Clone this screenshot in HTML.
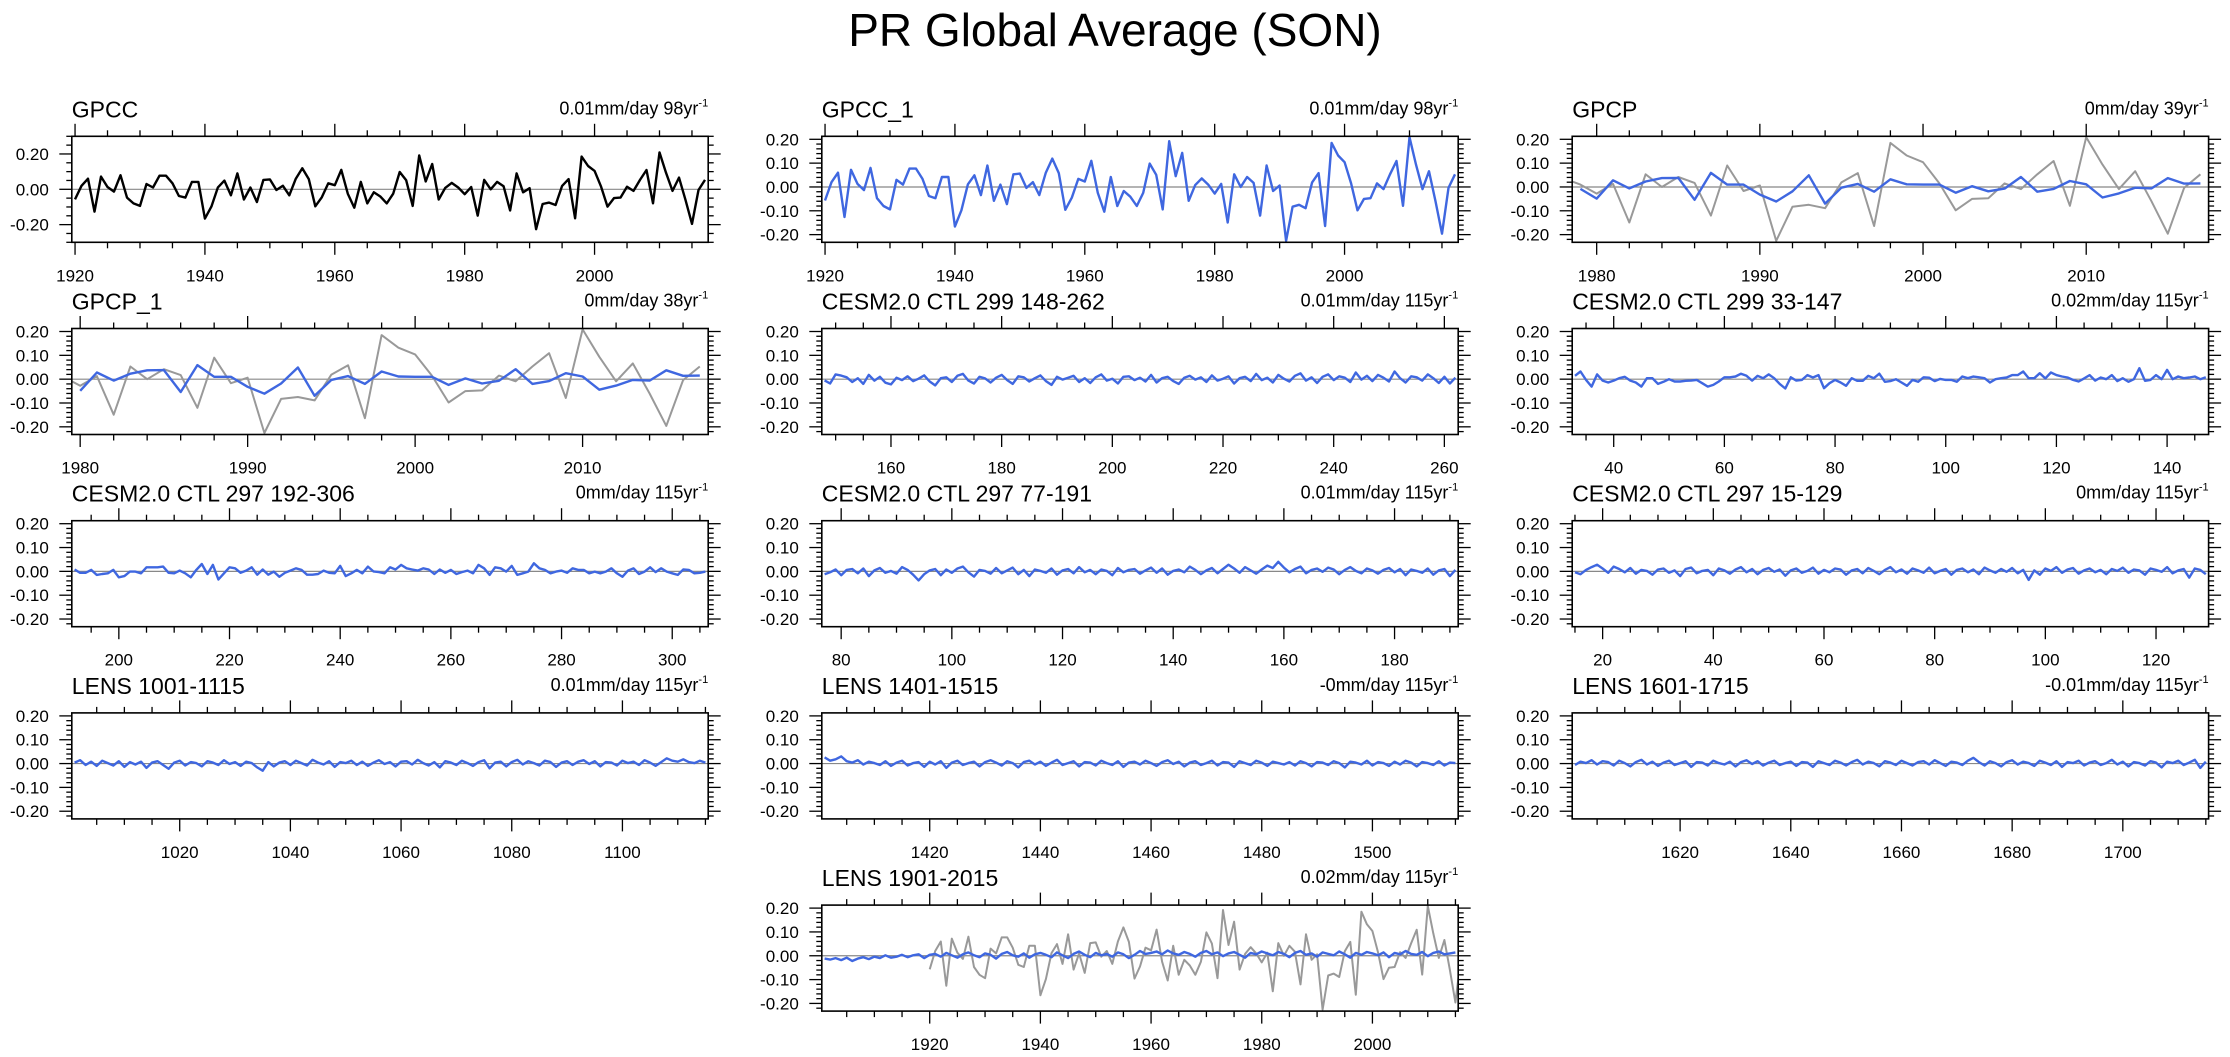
<!DOCTYPE html>
<html><head><meta charset="utf-8"><title>PR Global Average (SON)</title>
<style>
html,body{margin:0;padding:0;background:#fff;}
svg{display:block;font-family:"Liberation Sans",Arial,sans-serif;}
</style></head>
<body>
<svg id="fig" width="2230" height="1057" viewBox="0 0 2230 1057" xmlns="http://www.w3.org/2000/svg">
<text x="1115" y="46" text-anchor="middle" font-size="46">PR Global Average (SON)</text>
</svg>
<script>
// ---- data ----
const gpccYears0 = 1920;
const gpcc = [-0.057,0.02,0.06,-0.126,0.072,0.013,-0.013,0.08,-0.047,-0.08,
-0.094,0.03,0.01,0.077,0.077,0.034,-0.038,-0.047,0.042,0.042,
-0.166,-0.098,0.011,0.049,-0.034,0.09,-0.058,0.01,-0.072,0.053,
0.056,-0.004,0.02,-0.034,0.06,0.119,0.058,-0.096,-0.045,0.034,
0.023,0.11,-0.025,-0.104,0.042,-0.08,-0.017,-0.041,-0.08,-0.025,
0.098,0.051,-0.094,0.192,0.045,0.143,-0.058,0.008,0.036,0.01,
-0.028,0.013,-0.149,0.053,0,0.042,0.017,-0.12,0.09,-0.017,
0.006,-0.226,-0.083,-0.075,-0.089,0.019,0.058,-0.164,0.185,0.132,
0.104,0.015,-0.098,-0.05,-0.047,0.015,-0.009,0.053,0.109,-0.079,
0.209,0.094,-0.009,0.066,-0.06,-0.196,-0.004,0.053];
const gpcpYears0 = 1979;
const gpcp = [-0.008,-0.049,0.028,-0.006,0.023,0.037,0.038,-0.054,0.059,0.01,
0.01,-0.032,-0.061,-0.018,0.049,-0.07,-0.003,0.013,-0.02,0.032,
0.011,0.01,0.01,-0.024,0.003,-0.018,-0.007,0.042,-0.02,-0.008,
0.025,0.011,-0.044,-0.027,-0.003,-0.006,0.037,0.014,0.015];
const cesm299a = [-.005,-.018,.02,.015,.008,-.012,.004,-.02,.018,-.006,
.01,-.015,-.022,.006,-.004,.012,-.008,.002,.016,-.01,
-.026,.004,.008,-.012,.014,.022,-.006,-.018,.01,.003,
-.014,.006,.018,-.004,-.02,.012,.008,-.01,.004,.016,
-.008,-.024,.01,-.002,.006,.014,-.012,.004,-.016,.008,
.02,-.006,.002,-.018,.01,.012,-.004,.006,-.01,.018,
-.014,.004,.01,-.008,-.02,.006,.014,-.002,.008,-.012,
.016,-.006,.002,.012,-.018,.004,.01,-.008,.022,-.004,
.006,-.014,.018,.002,-.01,.014,.024,-.006,.008,-.016,
.01,.02,-.004,.012,.006,-.012,.028,-.002,.014,-.008,
.018,.006,-.01,.032,.004,-.014,.012,.008,-.006,.02,
.004,-.016,.01,-.018,.006];
const cesm299b = [.014,.032,-.003,-.031,.02,-.006,-.014,-.006,.004,.01,
-.006,-.014,-.031,.004,.004,-.02,-.011,0,-.01,-.01,
-.007,-.006,-.003,-.017,-.031,-.024,-.01,.008,.008,.011,
.023,.014,-.006,.014,.004,.02,.004,-.02,-.039,.008,
-.006,-.003,.017,.007,.017,-.038,-.017,-.003,-.014,-.028,
.004,-.007,-.007,.014,.004,.023,-.011,-.008,0,-.014,
-.028,-.003,-.011,.008,.006,-.008,.001,-.003,-.003,-.011,
.011,.004,.011,.008,.004,-.014,0,.004,.007,.017,
.017,.032,.004,.004,.025,.003,.028,.017,.011,.007,
-.003,-.01,.003,.017,-.006,.007,0,.017,-.008,.004,
-.011,0,.046,-.007,-.003,.017,0,.039,0,.011,
.004,.007,.011,0,.008];
const cesm297a = [.008,-.006,-.006,.006,-.015,-.011,-.008,.006,-.025,-.02,
-.001,-.001,-.008,.017,.017,.017,.02,-.006,-.008,.003,
-.008,-.025,.006,.031,-.011,.027,-.034,-.008,.017,.013,
-.006,.003,.017,-.014,.008,-.014,-.001,-.023,-.006,.003,
.013,.006,-.014,-.014,-.011,.003,-.006,-.008,.023,-.02,
-.008,.006,-.008,.02,0,-.003,-.008,.017,.008,.027,
.013,.008,.003,.013,.008,-.011,.008,-.006,.006,-.011,
-.003,.003,-.008,.027,.013,-.015,.017,.013,-.001,.023,
-.015,-.008,-.001,.034,.013,.006,-.008,-.001,.003,-.006,
.013,.006,.006,-.008,-.001,-.008,-.001,.013,-.008,-.023,
.003,.013,-.011,-.001,.017,-.003,.013,-.001,-.008,-.015,
.008,.006,-.008,-.006,-.001];
const cesm297b = [-.012,-.004,.008,-.016,.006,.01,-.008,.012,-.02,.004,
.014,-.006,.002,-.01,.018,.006,-.014,-.038,-.012,.004,
.01,-.016,.008,-.006,.012,.02,-.004,-.022,.006,.002,
-.01,.014,-.008,.004,.016,-.012,.006,-.02,.008,.002,
-.006,.012,-.014,.004,.01,-.008,.018,-.004,.006,-.012,
.008,.002,-.016,.014,-.004,.006,.01,-.01,.004,.016,
-.006,.012,-.014,.002,.008,-.004,.02,.006,-.012,.004,
.014,-.008,.01,.028,.012,-.006,.018,.004,-.01,.008,
.024,.014,.04,.016,-.004,.01,.02,-.008,.006,.012,
-.002,.016,.008,-.012,.006,.018,.002,-.008,.012,.004,
-.01,.006,.014,-.004,.01,-.016,.008,.002,-.006,.012,
-.014,.004,.01,-.02,.006];
const cesm297c = [-.004,-.012,.006,.018,.028,.012,-.006,.02,.01,-.004,
.014,-.01,.006,.002,-.014,.008,.012,-.006,.004,-.02,
.01,.016,-.008,.002,.006,-.016,.012,.004,-.01,.008,
.018,-.004,.01,-.012,.006,.014,-.002,.008,-.018,.004,
.012,-.006,.002,.016,-.01,.006,-.004,.012,.008,-.014,
.004,.01,-.008,.014,.002,-.012,.006,.018,-.004,.008,
-.01,.012,.004,-.006,.016,-.008,.002,.01,-.014,.006,
.012,-.004,.008,-.012,.016,.004,-.006,.01,-.002,.014,
-.008,.006,-.036,.004,-.014,.012,.002,.018,-.006,.008,
.014,-.01,.004,.012,-.004,.006,-.012,.01,.002,.016,
-.006,.008,.004,-.014,.012,.006,-.002,.018,-.008,.004,
.01,-.026,.012,.006,-.012];
const lens1001 = [.004,.014,-.006,.008,-.01,.012,.002,-.008,.01,-.014,
.006,-.004,.008,-.018,.004,.01,-.006,-.022,.004,.012,
-.008,.006,.002,-.012,.01,.004,-.006,.014,-.002,.006,
-.01,.008,.002,-.016,-.03,.006,-.012,.004,.01,-.006,
.012,.002,-.008,.016,.004,-.004,.01,-.014,.006,.002,
.012,-.006,.008,-.01,.004,.014,-.002,.006,-.012,.008,
.01,-.004,.016,.002,-.008,.006,-.016,.01,.004,-.006,
.012,.002,-.01,.006,.014,-.02,.004,.008,-.012,.006,
.016,-.004,.01,.002,-.008,.012,.006,-.014,.004,.01,
-.006,.008,.014,-.002,.01,-.012,.006,.004,-.008,.012,
.002,.008,-.006,.014,.004,-.01,.006,.022,.012,.008,
.018,.006,.002,.012,.004];
const lens1401 = [.026,.012,.018,.03,.01,.004,.014,-.004,.008,.002,
-.006,.01,-.01,.004,.012,-.008,.002,.006,-.014,.008,
-.004,.01,-.018,.004,.012,-.006,.002,.008,-.012,.006,
.014,.004,-.008,.01,.002,-.016,.006,.012,-.004,.008,
-.01,.004,.016,-.006,.002,.01,-.012,.006,.004,-.008,
.012,.002,-.006,.01,-.014,.004,.008,-.004,.012,.002,
-.01,.006,.014,-.002,.008,-.012,.004,.01,-.006,.002,
.012,-.008,.006,.004,-.014,.01,.002,-.006,.012,.004,
-.01,.008,.002,-.004,.006,-.008,.01,.002,-.012,.006,
.004,-.006,.01,.002,-.016,.008,.004,-.004,.012,-.008,
.006,.002,-.01,.008,-.004,.012,.004,-.012,.006,.002,
-.006,.01,-.008,.004,.002];
const lens1601 = [-.006,.008,.002,.014,-.004,.01,.006,-.008,.012,.002,
-.012,.006,.016,-.004,.008,-.01,.004,.012,-.006,.002,
.01,-.014,.006,.004,-.008,.012,.002,-.004,.008,-.012,
.006,.014,-.002,.01,-.008,.004,.012,-.006,.002,.008,
-.01,.006,.004,-.014,.01,.002,-.006,.012,.004,-.008,
.006,.016,-.004,.008,.002,-.012,.01,.004,-.006,.012,
.002,-.008,.006,.01,-.004,.014,.002,-.01,.008,.004,
-.006,.012,.024,.006,-.008,.01,.002,-.012,.006,.014,
-.004,.008,.002,-.01,.012,.004,-.006,.01,-.014,.006,
.002,.012,-.008,.004,.01,-.006,.002,.016,-.004,.008,
-.012,.006,.002,-.008,.01,.004,-.016,.008,.002,.012,
-.006,.004,.016,-.018,.008];
const lens1901 = [-.012,-.016,-.01,-.018,-.008,-.022,-.012,-.006,-.014,-.004,
-.01,.002,-.008,-.004,.004,-.006,.002,.006,-.01,.004,
.008,-.004,.012,.002,-.008,.006,.014,.002,-.006,.01,
.004,-.012,.008,.016,.002,-.004,.01,-.008,.006,.012,
.004,-.006,.014,.002,-.01,.008,.018,.004,-.006,.012,
.002,.008,-.004,.014,.006,-.01,.004,.02,.008,.012,
.018,.006,.022,.01,.004,.016,.008,-.004,.012,.02,
.006,.014,-.002,.01,.016,.004,-.008,.012,.006,.018,
.01,.002,.016,.008,-.006,.012,.02,.004,.01,-.004,
.014,.008,.002,.018,.006,-.008,.012,.004,.016,.01,
.002,.014,-.006,.012,.006,.02,.008,.004,.016,-.002,
.012,.018,.006,.01,.014];
const panelTitles = ["GPCC","GPCC_1","GPCP","GPCP_1","CESM2.0 CTL 299 148-262","CESM2.0 CTL 299 33-147","CESM2.0 CTL 297 192-306","CESM2.0 CTL 297 77-191","CESM2.0 CTL 297 15-129","LENS 1001-1115","LENS 1401-1515","LENS 1601-1715","LENS 1901-2015"];
const trendLabels = ["0.01mm/day 98yr","0.01mm/day 98yr","0mm/day 39yr","0mm/day 38yr","0.01mm/day 115yr","0.02mm/day 115yr","0mm/day 115yr","0.01mm/day 115yr","0mm/day 115yr","0.01mm/day 115yr","-0mm/day 115yr","-0.01mm/day 115yr","0.02mm/day 115yr"];
const yLabels = ["0.20","0.10","0.00","-0.10","-0.20"];
const yLabelsWide = ["0.20","0.00","-0.20"];

// ---- layout ----
const NS="http://www.w3.org/2000/svg";
const svg=document.getElementById('fig');
const colX=[71.8,821.8,1572.2], W=636.4;
const rowY=[136.3,328.5,520.7,712.9,905.1], H=106;
const BLUE="#3f67e0", GRAY="#999999";
function mk(tag,attrs,parent){const e=document.createElementNS(NS,tag);for(const k in attrs)e.setAttribute(k,attrs[k]);(parent||svg).appendChild(e);return e;}

const panels=[
 {c:0,r:0,x0:1919.5,x1:2017.5,xMaj:20,xMin:5,wide:true,series:[{d:gpcc,s:gpccYears0,col:"#000"}]},
 {c:1,r:0,x0:1919.5,x1:2017.5,xMaj:20,xMin:5,series:[{d:gpcc,s:gpccYears0,col:BLUE}]},
 {c:2,r:0,x0:1978.5,x1:2017.5,xMaj:10,xMin:2,series:[{d:gpcc,s:gpccYears0,col:GRAY},{d:gpcp,s:gpcpYears0,col:BLUE}]},
 {c:0,r:1,x0:1979.5,x1:2017.5,xMaj:10,xMin:2,series:[{d:gpcc,s:gpccYears0,col:GRAY},{d:gpcp.slice(1),s:1980,col:BLUE}]},
 {c:1,r:1,x0:147.5,x1:262.5,xMaj:20,xMin:5,series:[{d:cesm299a,s:148,col:BLUE}]},
 {c:2,r:1,x0:32.5,x1:147.5,xMaj:20,xMin:5,series:[{d:cesm299b,s:33,col:BLUE}]},
 {c:0,r:2,x0:191.5,x1:306.5,xMaj:20,xMin:5,series:[{d:cesm297a,s:192,col:BLUE}]},
 {c:1,r:2,x0:76.5,x1:191.5,xMaj:20,xMin:5,series:[{d:cesm297b,s:77,col:BLUE}]},
 {c:2,r:2,x0:14.5,x1:129.5,xMaj:20,xMin:5,series:[{d:cesm297c,s:15,col:BLUE}]},
 {c:0,r:3,x0:1000.5,x1:1115.5,xMaj:20,xMin:5,series:[{d:lens1001,s:1001,col:BLUE}]},
 {c:1,r:3,x0:1400.5,x1:1515.5,xMaj:20,xMin:5,series:[{d:lens1401,s:1401,col:BLUE}]},
 {c:2,r:3,x0:1600.5,x1:1715.5,xMaj:20,xMin:5,series:[{d:lens1601,s:1601,col:BLUE}]},
 {c:1,r:4,x0:1900.5,x1:2015.5,xMaj:20,xMin:5,series:[{d:gpcc,s:gpccYears0,col:GRAY},{d:lens1901,s:1901,col:BLUE}]}
];

panels.forEach((p,i)=>{
 const L=colX[p.c], T=rowY[p.r], R=L+W, B=T+H;
 const y0=p.wide?-0.3:-0.2322, y1=p.wide?0.3:0.2126;
 const sx=v=>L+(v-p.x0)/(p.x1-p.x0)*W;
 const sy=v=>B-(v-y0)/(y1-y0)*H;
 const g=mk('g',{});
 
 
 const cp=mk('clipPath',{id:'cp'+i},g); mk('rect',{x:L,y:T,width:W,height:H},cp);
 const t=mk('text',{x:L,y:T-19,'font-size':23},g); t.textContent=panelTitles[i];
 
 
 const tr=mk('text',{x:R,y:T-22,'font-size':18,'text-anchor':'end'},g);
 
 
 tr.appendChild(document.createTextNode(trendLabels[i]));
 const sup=mk('tspan',{'font-size':11,dy:-8},tr); sup.textContent='-1';
 const z=mk('line',{x1:L,x2:R,y1:sy(0),y2:sy(0),stroke:'#888','stroke-width':1.2},g);
 
 
 p.series.forEach(s=>{
  const pts=s.d.map((v,k)=>sx(s.s+k).toFixed(1)+','+sy(v).toFixed(1)).join(' ');
  const pl=mk('polyline',{points:pts,fill:'none',stroke:s.col,'stroke-width':s.col===GRAY?2:2.4,'stroke-linejoin':'round','clip-path':'url(#cp'+i+')'},g);
  
  
 });
 const bx=mk('rect',{x:L,y:T,width:W,height:H,fill:'none',stroke:'#000','stroke-width':1.6},g);
 
 
 const tk=mk('g',{stroke:'#000','stroke-width':1.3},g);
 for(let v=Math.ceil(p.x0/p.xMin)*p.xMin; v<=p.x1; v+=p.xMin){
  const x=sx(v), maj=(v%p.xMaj===0), len=maj?12.5:6;
  mk('line',{x1:x,x2:x,y1:B,y2:B+len},tk);
  mk('line',{x1:x,x2:x,y1:T,y2:T-len},tk);
  if(maj){const lb=mk('text',{x:x,y:B+39,'font-size':17,'text-anchor':'middle'},g);lb.textContent=v;
   
   }
 }
 const majStep=p.wide?0.2:0.1, minStep=p.wide?0.05:0.02;
 const nMin=Math.round((p.wide?0.3:0.22)/minStep);
 for(let k=-nMin;k<=nMin;k++){
  const v=k*minStep; if(v<y0-1e-6||v>y1+1e-6) continue;
  const y=sy(v); const maj=Math.abs(v/majStep-Math.round(v/majStep))<1e-6; const len=maj?12.5:5.5;
  mk('line',{x1:L,x2:L-len,y1:y,y2:y},tk);
  mk('line',{x1:R,x2:R+len,y1:y,y2:y},tk);
 }
 const labs=p.wide?yLabelsWide:yLabels;
 labs.forEach(s=>{const v=parseFloat(s);const lb=mk('text',{x:L-23,y:sy(v)+6,'font-size':17,'text-anchor':'end'},g);lb.textContent=s;
  
  });
});
</script>
</body></html>
